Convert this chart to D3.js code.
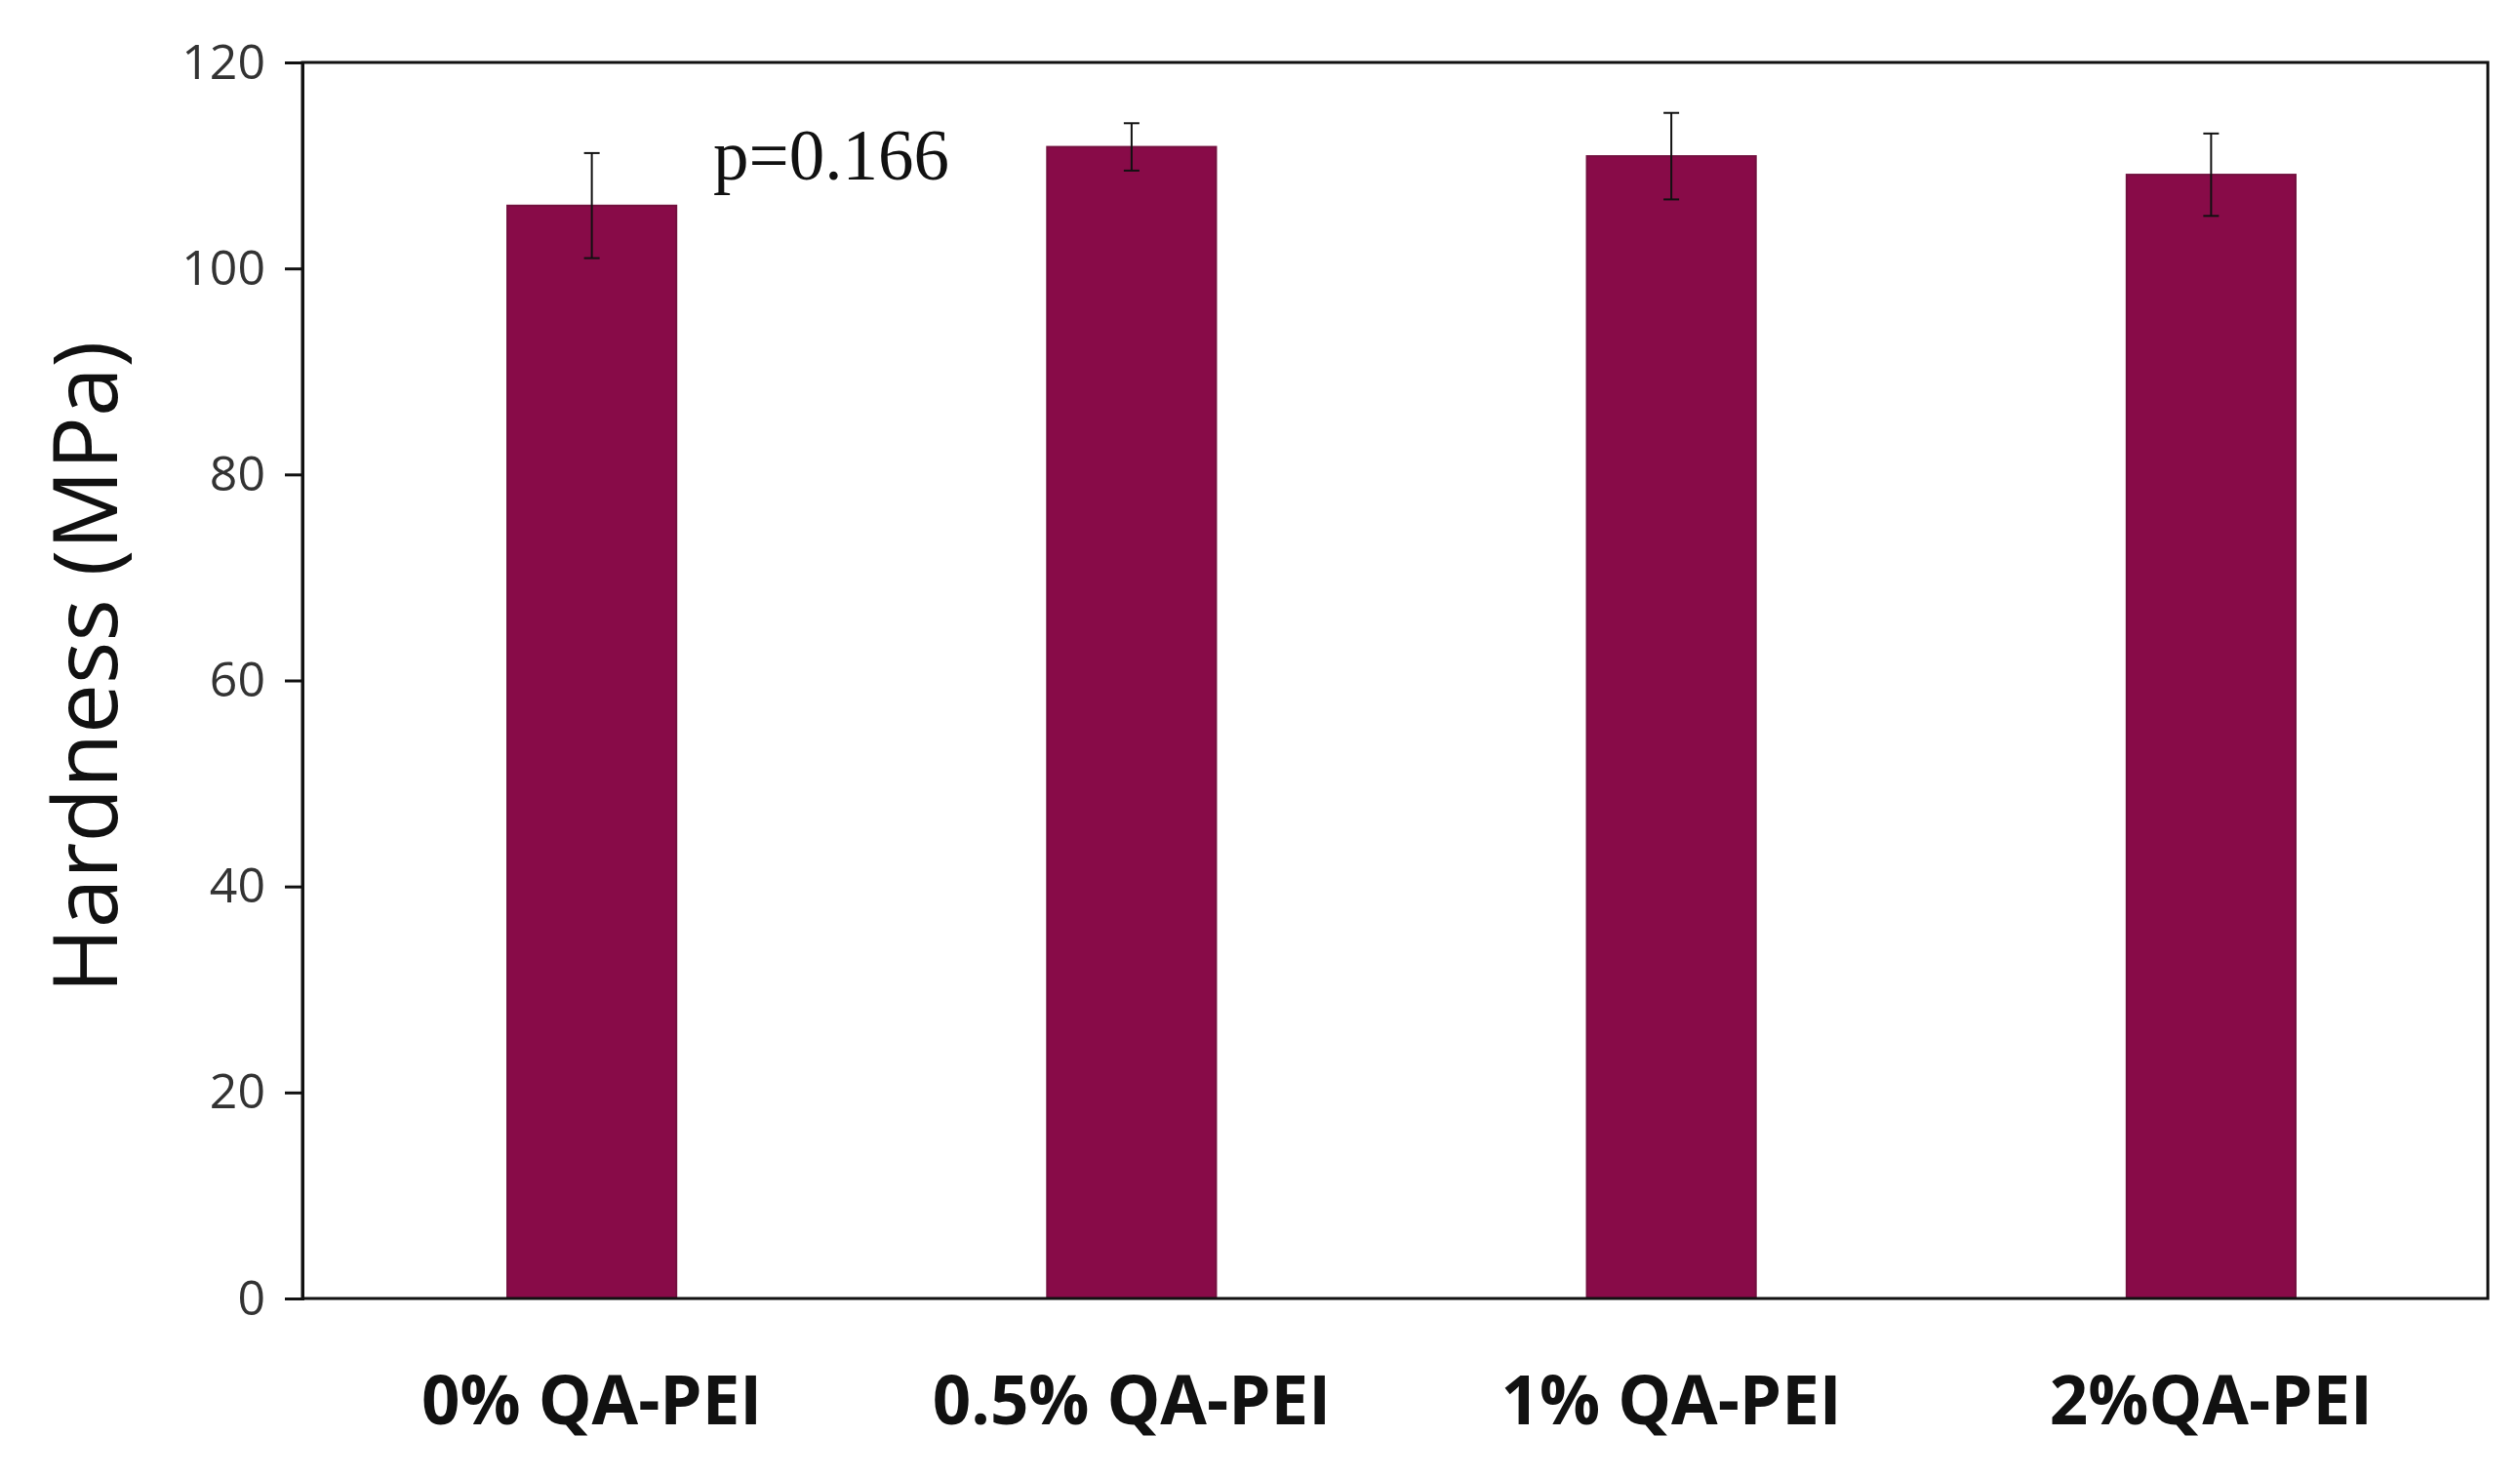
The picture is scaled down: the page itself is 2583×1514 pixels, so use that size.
<!DOCTYPE html>
<html>
<head>
<meta charset="utf-8">
<script src="https://cdn.jsdelivr.net/npm/d3@7"></script>
<style>
  html, body { margin: 0; padding: 0; background: #fff; }
  svg { display: block; }
</style>
</head>
<body>
<script>
const categories = ["0% QA-PEI", "0.5% QA-PEI", "1% QA-PEI", "2%QA-PEI"];
const hardness = [106.1, 111.8, 110.9, 109.1];
const errors = [5.1, 2.3, 4.2, 4.0];
const yTicks = [0, 20, 40, 60, 80, 100, 120];
const annotation = "p=0.166";

const W = 2583, H = 1514;
const margin = { left: 310, right: 33, top: 64, bottom: 183 };
const innerW = W - margin.left - margin.right;
const innerH = H - margin.top - margin.bottom;

const svg = d3.select("body").append("svg").attr("width", W).attr("height", H);
const g = svg.append("g").attr("transform", `translate(${margin.left},${margin.top})`);

const x = d3.scaleBand().domain(categories).range([20, innerW - 7]).paddingInner(0.687).paddingOuter(0.3435);
const y = d3.scaleLinear().domain([0, 120]).range([innerH, 0]);

// bars
g.selectAll("rect.bar").data(categories).enter().append("rect")
  .attr("class", "bar")
  .attr("x", d => x(d))
  .attr("width", x.bandwidth())
  .attr("y", (d, i) => y(hardness[i]))
  .attr("height", (d, i) => y(0) - y(hardness[i]))
  .attr("fill", "#880B48")
  .attr("stroke", "#74103f")
  .attr("stroke-width", 2);

// error bars
const eb = g.selectAll("g.err").data(categories).enter().append("g").attr("class", "err");
eb.append("line")
  .attr("x1", d => x(d) + x.bandwidth() / 2).attr("x2", d => x(d) + x.bandwidth() / 2)
  .attr("y1", (d, i) => y(hardness[i] + errors[i])).attr("y2", (d, i) => y(hardness[i] - errors[i]))
  .attr("stroke", "#111").attr("stroke-width", 2);
[1, -1].forEach(s => {
  eb.append("line")
    .attr("x1", d => x(d) + x.bandwidth() / 2 - 8).attr("x2", d => x(d) + x.bandwidth() / 2 + 8)
    .attr("y1", (d, i) => y(hardness[i] + s * errors[i])).attr("y2", (d, i) => y(hardness[i] + s * errors[i]))
    .attr("stroke", "#111").attr("stroke-width", 2);
});

// x axis labels
const xAxis = g.append("g").attr("transform", `translate(0,${innerH})`)
  .call(d3.axisBottom(x).tickSize(0).tickPadding(80));
xAxis.select(".domain").remove();
xAxis.selectAll(".tick text")
  .attr("font-family", "'Open Sans', sans-serif").attr("font-weight", "bold")
  .attr("font-size", 69).attr("fill", "#111");

// frame
g.append("rect").attr("x", 0).attr("y", 0).attr("width", innerW).attr("height", innerH)
  .attr("fill", "none").attr("stroke", "#111").attr("stroke-width", 3);

// y axis
const yAxis = g.append("g").call(d3.axisLeft(y).tickValues(yTicks).tickSize(18).tickPadding(20).tickFormat(d3.format("d")));
yAxis.select(".domain").attr("stroke", "#111").attr("stroke-width", 3);
yAxis.selectAll(".tick line").attr("stroke", "#111").attr("stroke-width", 3);
yAxis.selectAll(".tick text")
  .attr("font-family", "'Open Sans', sans-serif").attr("font-size", 50).attr("fill", "#333");

// y title
svg.append("text")
  .attr("transform", `translate(120,684) rotate(-90)`)
  .attr("text-anchor", "middle")
  .attr("font-family", "'Open Sans', sans-serif").attr("font-size", 91).attr("fill", "#111")
  .text("Hardness (MPa)");

// annotation
svg.append("text")
  .attr("x", 731).attr("y", 184)
  .attr("font-family", "'Liberation Serif', 'DejaVu Serif', serif").attr("font-size", 73).attr("fill", "#111")
  .text(annotation);
</script>
</body>
</html>
